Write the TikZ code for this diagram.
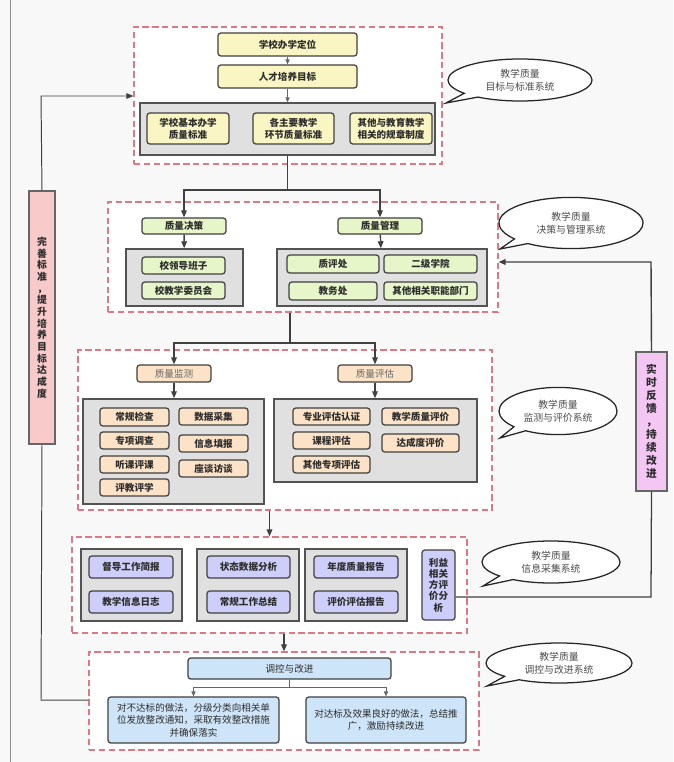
\documentclass[tikz,border=0pt]{standalone}
\usepackage{fontspec}
\newfontfamily\cjk{Noto Sans CJK SC}
\usetikzlibrary{positioning,arrows.meta,shapes.callouts}

\definecolor{bgc}{RGB}{248,248,248}
\definecolor{dashred}{RGB}{222,120,132}
\definecolor{contgray}{RGB}{224,224,224}
\definecolor{lineg}{RGB}{64,64,64}
\definecolor{txtg}{RGB}{45,45,45}
\definecolor{yel}{RGB}{250,246,196}
\definecolor{grn}{RGB}{230,246,200}
\definecolor{org}{RGB}{252,226,198}
\definecolor{lav}{RGB}{206,206,250}
\definecolor{blu}{RGB}{206,228,248}
\definecolor{pnk}{RGB}{248,202,202}
\definecolor{vio}{RGB}{244,198,244}

% box from pixel corners: name, x1, y1, x2, y2, style, text
\newcommand{\pxbox}[7]{%
  \node[#6,minimum width={(#4-#2)*0.025cm},minimum height={(#5-#3)*0.025cm}] (#1) at ({(#2+#4)/2},{(#3+#5)/2}) {#7};}

\begin{document}
\begin{tikzpicture}[x=0.025cm,y=-0.025cm,
	every node/.style={inner sep=0pt,align=center,text=txtg,font=\cjk\fontsize{6.8}{8.6}\selectfont},
	section/.style={draw=dashred,fill=white,line width=0.8pt,dash pattern=on 4.5pt off 2.5pt},
	cont/.style={draw=lineg!90,fill=contgray,line width=1pt},
	item/.style={draw=lineg,rounded corners=2pt,line width=0.9pt,font=\cjk\bfseries\fontsize{6.8}{8.6}\selectfont},
	plain/.style={item,font=\cjk\fontsize{6.8}{8.8}\selectfont},
	side/.style={draw=lineg!80,line width=0.8pt,font=\cjk\bfseries\fontsize{7}{9.2}\selectfont},
	bubble/.style={ellipse callout,draw=black!85,fill=white,line width=0.9pt,text=black!70,font=\cjk\fontsize{7}{9.4}\selectfont},
	arr/.style={draw=lineg,line width=1pt,-{Triangle[length=5pt,width=4pt]}},
	thinarr/.style={draw=lineg!80,line width=0.6pt,-{Triangle[length=3.5pt,width=3pt]}},
	link/.style={draw=lineg,line width=0.9pt}]

	\useasboundingbox[fill=bgc] (0,0) rectangle (673,762);
	\draw[black!45,line width=0.6pt] (10,0) -- (10,762);

	% dashed sections
	\pxbox{sec1}{134}{27}{442}{164}{section}{}
	\pxbox{sec2}{108}{202}{498}{312}{section}{}
	\pxbox{sec3}{78}{350}{492}{510}{section}{}
	\pxbox{sec4}{72}{537}{467}{633}{section}{}
	\pxbox{sec5}{89}{652}{479}{750}{section}{}

	% targets and standards
	\pxbox{dingwei}{218}{33}{357}{56}{item,fill=yel}{学校办学定位}
	\pxbox{mubiao}{218}{65}{357}{88}{item,fill=yel}{人才培养目标}
	\pxbox{cont1}{140}{103}{435}{155}{cont}{}
	\pxbox{bzA}{147}{113}{229}{144}{item,fill=yel}{学校基本办学\\质量标准}
	\pxbox{bzB}{253}{113}{334}{144}{item,fill=yel}{各主要教学\\环节质量标准}
	\pxbox{bzC}{350}{113}{432}{144}{item,fill=yel}{其他与教育教学\\相关的规章制度}

	% decision and management
	\pxbox{juece}{142}{218}{226}{234}{item,fill=grn}{质量决策}
	\pxbox{guanli}{338}{218}{422}{234}{item,fill=grn}{质量管理}
	\pxbox{cont2a}{126}{249}{243}{306}{cont}{}
	\pxbox{cont2b}{277}{249}{487}{306}{cont}{}
	\pxbox{lingdao}{142}{257}{225}{274}{item,fill=grn}{校领导班子}
	\pxbox{weiyuan}{142}{282}{225}{299}{item,fill=grn}{校教学委员会}
	\pxbox{zhiping}{287}{255}{379}{273}{item,fill=grn}{质评处}
	\pxbox{erji}{384}{255}{477}{273}{item,fill=grn}{二级学院}
	\pxbox{jiaowu}{289}{282}{377}{300}{item,fill=grn}{教务处}
	\pxbox{qitabm}{384}{282}{477}{300}{item,fill=grn}{其他相关职能部门}

	% monitoring and evaluation
	\pxbox{jiance}{137}{365}{211}{382}{plain,fill=org,text=black!60}{质量监测}
	\pxbox{pinggu}{338}{365}{412}{382}{plain,fill=org,text=black!60}{质量评估}
	\pxbox{cont3a}{83}{399}{264}{504}{cont}{}
	\pxbox{cont3b}{274}{399}{477}{482}{cont}{}
	\pxbox{changgui}{100}{408}{169}{426}{item,fill=org}{常规检查}
	\pxbox{zhuanxiang}{100}{432}{169}{449}{item,fill=org}{专项调查}
	\pxbox{tingke}{100}{456}{169}{473}{item,fill=org}{听课评课}
	\pxbox{pingjiao}{100}{479}{169}{496}{item,fill=org}{评教评学}
	\pxbox{shuju}{179}{408}{248}{425}{item,fill=org}{数据采集}
	\pxbox{xinxi}{179}{435}{248}{452}{item,fill=org}{信息填报}
	\pxbox{zuotan}{179}{460}{248}{477}{item,fill=org}{座谈访谈}
	\pxbox{renzheng}{293}{408}{370}{425}{item,fill=org}{专业评估认证}
	\pxbox{kecheng}{293}{432}{370}{449}{item,fill=org}{课程评估}
	\pxbox{qitapg}{293}{456}{370}{473}{item,fill=org}{其他专项评估}
	\pxbox{zlpj}{382}{408}{459}{425}{item,fill=org}{教学质量评价}
	\pxbox{dacheng}{382}{434}{459}{452}{item,fill=org}{达成度评价}

	% information gathering
	\pxbox{cont4a}{81}{549}{182}{621}{cont}{}
	\pxbox{cont4b}{197}{549}{299}{621}{cont}{}
	\pxbox{cont4c}{305}{549}{407}{621}{cont}{}
	\pxbox{jianbao}{89}{556}{173}{578}{item,fill=lav}{督导工作简报}
	\pxbox{rizhi}{89}{591}{173}{613}{item,fill=lav}{教学信息日志}
	\pxbox{zhuangtai}{207}{556}{290}{578}{item,fill=lav}{状态数据分析}
	\pxbox{zongjie}{207}{591}{290}{613}{item,fill=lav}{常规工作总结}
	\pxbox{niandu}{314}{556}{398}{578}{item,fill=lav}{年度质量报告}
	\pxbox{baogao}{314}{591}{398}{613}{item,fill=lav}{评价评估报告}
	\pxbox{liyi}{422}{550}{455}{620}{item,fill=lav,font=\cjk\bfseries\fontsize{6.8}{8}\selectfont}{利益\\相关\\方评\\价分\\析}

	% control and improvement
	\pxbox{tiaokong}{188}{658}{391}{679}{plain,fill=blu}{调控与改进}
	\pxbox{buda}{108}{697}{279}{743}{plain,fill=blu}{对不达标的做法，分级分类向相关单\\位发放整改通知，采取有效整改措施\\并确保落实}
	\pxbox{dabiao}{306}{697}{466}{743}{plain,fill=blu}{对达标及效果良好的做法，总结推\\广，激励持续改进}

	% feedback boxes
	\pxbox{wanshan}{29}{191}{55}{444}{side,fill=pnk,font=\cjk\bfseries\fontsize{7}{8.3}\selectfont}{完\\善\\标\\准\\，\\提\\升\\培\\养\\目\\标\\达\\成\\度}
	\pxbox{fankui}{636}{352}{667}{491}{side,fill=vio,font=\cjk\bfseries\fontsize{7.6}{9.2}\selectfont}{实\\时\\反\\馈\\，\\持\\续\\改\\进}

	% connectors
	\draw[thinarr] (dingwei) -- (mubiao);
	\draw[thinarr] (mubiao) -- (cont1);
	\coordinate (split1) at (287.5,190);
	\draw[link] (cont1.south) -- (split1);
	\draw[arr] (split1) -| (juece.north);
	\draw[arr] (split1) -| (guanli.north);
	\draw[arr] (juece) -- (cont2a);
	\draw[arr] (guanli) -- (cont2b);

	\coordinate (split2) at (290,343);
	\draw[link] (split2 |- sec2.south) -- (split2);
	\draw[arr] (split2) -| (jiance.north);
	\draw[arr] (split2) -| (pinggu.north);
	\draw[arr] (jiance) -- (jiance |- cont3a.north);
	\draw[arr] (pinggu) -- (pinggu |- cont3b.north);

	\draw[arr] (sec4.north |- sec3.south) -- (sec4.north);
	\draw[arr] (sec5.north |- sec4.south) -- (sec5.north);

	\coordinate (split5) at (289,687);
	\draw[draw=lineg!80,line width=0.6pt] (tiaokong.south -| split5) -- (split5);
	\draw[thinarr] (split5) -| (buda.north);
	\draw[thinarr] (split5) -| (dabiao.north);

	% feedback loops
	\coordinate (rbot) at (651,597);
	\coordinate (rtop) at (651,262);
	\draw[link] (rbot -| liyi.east) -- (rbot) -- (fankui.south);
	\draw[arr] (fankui.north) -- (rtop) -- (rtop -| sec2.east);
	\coordinate (lbot) at (41,700);
	\coordinate (ltop) at (41,96);
	\draw[link,line width=0.7pt] (lbot -| sec5.west) -- (lbot) -- (wanshan.south);
	\draw[arr,line width=0.7pt] (wanshan.north) -- (ltop) -- (ltop -| sec1.west);

	% speech bubbles
	\node[bubble,minimum width=3.6cm,minimum height=1.05cm,callout absolute pointer={(446,103)}] (bub1) at (520,80) {教学质量\\目标与标准系统};
	\node[bubble,minimum width=3.6cm,minimum height=1.28cm,callout absolute pointer={(500,249)}] (bub2) at (571,223) {教学质量\\决策与管理系统};
	\node[bubble,minimum width=2.95cm,minimum height=1.18cm,callout absolute pointer={(500,438)}] (bub3) at (558,411) {教学质量\\监测与评价系统};
	\node[bubble,minimum width=3.45cm,minimum height=1.05cm,callout absolute pointer={(483,586)}] (bub4) at (551,562) {教学质量\\信息采集系统};
	\node[bubble,minimum width=3.65cm,minimum height=1.0cm,callout absolute pointer={(487,686)}] (bub5) at (559,663) {教学质量\\调控与改进系统};
\end{tikzpicture}
\end{document}
